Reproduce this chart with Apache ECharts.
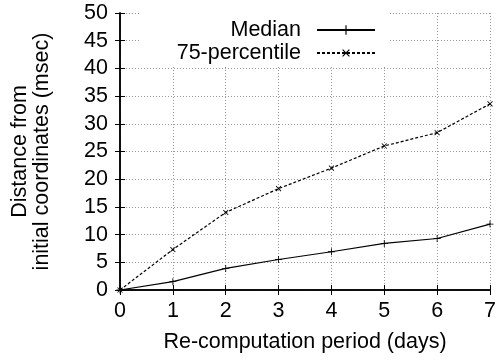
<!DOCTYPE html>
<html>
<head>
<meta charset="utf-8">
<script src="https://cdn.jsdelivr.net/npm/echarts@6/dist/echarts.min.js"></script>
<style>
  html, body { margin: 0; padding: 0; background: #fff; }
  #chart { width: 499px; height: 362px; }
</style>
</head>
<body>
<div id="chart"></div>
<script>
// data
const days = [0, 1, 2, 3, 4, 5, 6, 7];
const median = [0, 1.5, 3.9, 5.5, 6.9, 8.4, 9.3, 11.9];
const pct75 = [0, 7.3, 14.0, 18.3, 22.0, 26.0, 28.4, 33.6];

const font = 'Liberation Sans, Arial, sans-serif';
const plusPath = 'path://M4.4,0H5.6V4.4H10V5.6H5.6V10H4.4V5.6H0V4.4H4.4Z';

const chart = echarts.init(document.getElementById('chart'));

// hidden mirror axes just give the frame + inward ticks on top/right
const mirrorX = {
  type: 'value', position: 'top', min: 0, max: 7, interval: 1,
  axisLine: { show: true, lineStyle: { color: '#000', width: 1.5 } },
  axisTick: { show: true, inside: true, length: 5, lineStyle: { color: '#000' } },
  axisLabel: { show: false }, splitLine: { show: false }
};
const mirrorY = {
  type: 'value', position: 'right', min: 0, max: 50, interval: 5,
  axisLine: { show: true, lineStyle: { color: '#000', width: 1.5 } },
  axisTick: { show: true, inside: true, length: 5, lineStyle: { color: '#000' } },
  axisLabel: { show: false }, splitLine: { show: false }
};

const option = {
  animation: false,
  backgroundColor: '#fff',
  textStyle: { fontFamily: font },
  grid: { left: 120, right: 9, top: 13, bottom: 72 },
  legend: {
    orient: 'vertical',
    align: 'right',
    right: 111,
    top: 13,
    padding: [6, 12, 3, 36],
    backgroundColor: '#fff',
    z: 10,
    itemWidth: 58,
    itemHeight: 12,
    itemGap: 1,
    textStyle: { fontSize: 21.5, color: '#000', fontFamily: font, padding: [0, 11, 0, 0] },
    data: ['Median', '75-percentile']
  },
  xAxis: [{
    type: 'value', min: 0, max: 7, interval: 1,
    name: 'Re-computation period (days)',
    nameLocation: 'middle', nameGap: 41,
    nameTextStyle: { fontSize: 21.5, color: '#000' },
    axisLine: { show: true, onZero: false, lineStyle: { color: '#000', width: 1.5 } },
    axisTick: { show: true, inside: true, length: 5, lineStyle: { color: '#000' } },
    axisLabel: { fontSize: 21.5, color: '#000', margin: 10 },
    splitLine: { show: true, lineStyle: { color: '#999', type: [1, 2], width: 1 } }
  }, mirrorX],
  yAxis: [{
    type: 'value', min: 0, max: 50, interval: 5,
    name: 'Distance from\ninitial coordinates (msec)',
    nameLocation: 'middle', nameGap: 67,
    nameTextStyle: { fontSize: 21.5, color: '#000', lineHeight: 22 },
    axisLine: { show: true, onZero: false, lineStyle: { color: '#000', width: 1.5 } },
    axisTick: { show: true, inside: true, length: 5, lineStyle: { color: '#000' } },
    axisLabel: { fontSize: 21.5, color: '#000', margin: 12 },
    splitLine: { show: true, lineStyle: { color: '#999', type: [1, 2], width: 1 } }
  }, mirrorY],
  series: [{
    name: 'Median',
    type: 'line',
    data: days.map((d, i) => [d, median[i]]),
    color: '#000',
    symbol: plusPath,
    symbolSize: 7,
    clip: false,
    lineStyle: { color: '#000', width: 1.2 },
    itemStyle: { color: '#000' }
  }, {
    name: '75-percentile',
    type: 'line',
    data: days.map((d, i) => [d, pct75[i]]),
    color: '#000',
    symbol: plusPath,
    symbolRotate: 45,
    symbolSize: 7,
    clip: false,
    lineStyle: { color: '#000', width: 1.2, type: [3, 2] },
    itemStyle: { color: '#000' }
  }]
};

chart.setOption(option);
</script>
</body>
</html>
